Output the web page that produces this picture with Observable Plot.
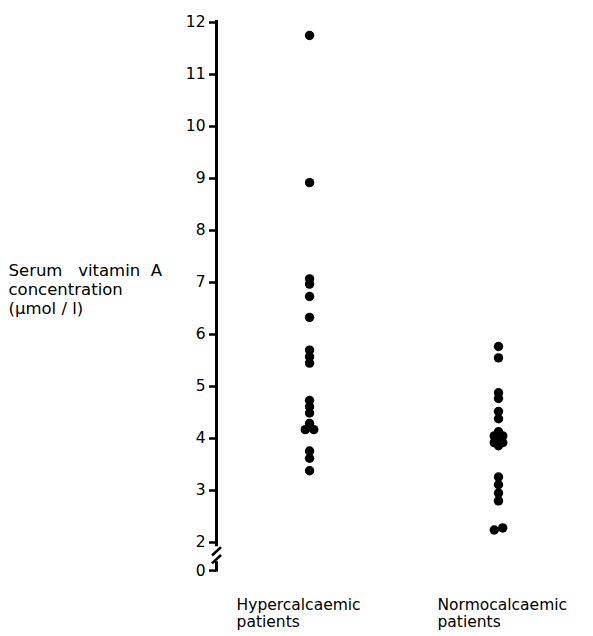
<!DOCTYPE html>
<html>
<head>
<meta charset="utf-8">
<script src="https://cdn.jsdelivr.net/npm/d3@7"></script>
<script src="https://cdn.jsdelivr.net/npm/@observablehq/plot@0.6"></script>
<style>
  html, body { margin: 0; padding: 0; background: #fff; }
  svg { display: block; }
</style>
</head>
<body>
<div id="chart"></div>
<script>
// ---- data ----
const groups = ["Hypercalcaemic\npatients", "Normocalcaemic\npatients"];
const yTicks = [2, 3, 4, 5, 6, 7, 8, 9, 10, 11, 12];
const zeroLabel = "0";
const yTitle = "Serum   vitamin  A\nconcentration\n(\u03BCmol / l)";

const hyperValues = [11.75, 8.92, 7.07, 6.97, 6.73, 6.33, 5.70, 5.57, 5.45, 4.73, 4.61, 4.49, 4.29, 4.17, 4.17, 3.76, 3.62, 3.38];
const hyperSide   = [0, 0, 0, 0, 0, 0, 0, 0, 0, 0, 0, 0, 0, -1, 1, 0, 0, 0];
const normoValues = [5.77, 5.55, 4.88, 4.77, 4.52, 4.38, 4.13, 4.05, 4.05, 3.98, 3.92, 3.92, 3.86, 3.26, 3.11, 2.95, 2.80, 2.24, 2.28];
const normoSide   = [0, 0, 0, 0, 0, 0, 0, -1, 1, 0, -1, 1, 0, 0, 0, 0, 0, -1, 1];

// ---- layout constants ----
const groupX = [0.33, 1];          // x-scale positions of the two columns (axis at 0)
const labelDx = [-73, -61];        // group labels start left of their column
const sideStep = 0.015;            // horizontal nudge for coincident points
const zeroPos = 1.46;              // where the "0" sits below the axis break
const font = "DejaVu Sans";

const points = [
  ...hyperValues.map((v, i) => ({g: 0, v, side: hyperSide[i]})),
  ...normoValues.map((v, i) => ({g: 1, v, side: normoSide[i]}))
];

const groupLabel = (i) => Plot.text([groups[i]], {
  x: () => groupX[i], frameAnchor: "bottom", dy: 55, dx: labelDx[i],
  textAnchor: "start", lineAnchor: "top", lineHeight: 1.12, fontSize: 15.5, fill: "#000"
});

const chart = Plot.plot({
  width: 593,
  height: 636,
  marginLeft: 216,
  marginRight: 95,
  marginTop: 22,
  marginBottom: 94,
  style: {fontFamily: font, background: "#fff", color: "#000"},
  x: {type: "linear", domain: [0, 1], axis: null},
  y: {type: "linear", domain: [2, 12], axis: null},
  marks: [
    // axis line (broken below 2)
    Plot.ruleX([0], {y1: 1.92, y2: 12.04, stroke: "#000", strokeWidth: 3}),
    Plot.ruleX([0], {y1: zeroPos - 0.03, y2: 1.63, stroke: "#000", strokeWidth: 3}),
    Plot.link([1.83, 1.68], {x1: -0.016, x2: 0.016, y1: d => d - 0.08, y2: d => d + 0.08, stroke: "#000", strokeWidth: 2.5}),
    // ticks and labels
    Plot.axisY({ticks: yTicks, tickSize: 7, tickPadding: 4, fontSize: 15.5, strokeWidth: 2.5, anchor: "left", label: null, fontFamily: font}),
    Plot.axisY({ticks: [zeroPos], tickFormat: () => zeroLabel, tickSize: 7, tickPadding: 4, fontSize: 15.5, strokeWidth: 2.5, anchor: "left", label: null, fontFamily: font}),
    // dots
    Plot.dot(points, {x: d => groupX[d.g] + d.side * sideStep, y: "v", r: 4.7, fill: "#000", stroke: "none"}),
    // y title
    Plot.text([yTitle], {frameAnchor: "left", dx: -208, dy: 6, textAnchor: "start", lineAnchor: "middle", lineHeight: 1.15, fontSize: 16.5, fill: "#000"}),
    // group labels
    groupLabel(0),
    groupLabel(1)
  ]
});
document.getElementById("chart").appendChild(chart);
</script>
</body>
</html>
